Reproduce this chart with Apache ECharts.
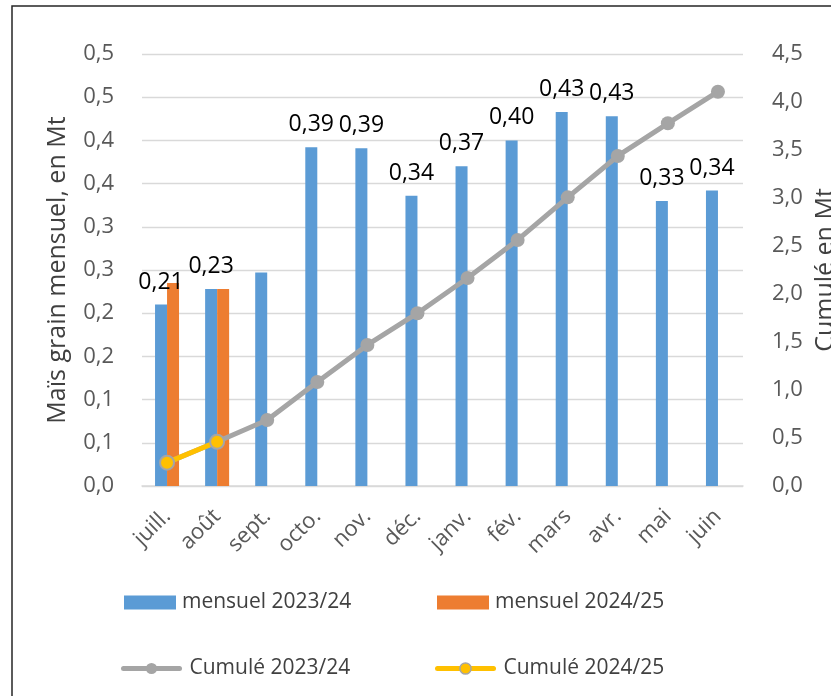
<!DOCTYPE html>
<html>
<head>
<meta charset="utf-8">
<script src="https://cdn.jsdelivr.net/npm/echarts@6/dist/echarts.min.js"></script>
<style>html,body{margin:0;padding:0;background:#fff;}#c{width:831px;height:696px;}</style>
</head>
<body>
<div id="c"></div>
<script>
var months = ['juill.','août','sept.','octo.','nov.','déc.','janv.','fév.','mars','avr.','mai','juin'];
var monthly2324 = [0.210, 0.228, 0.247, 0.392, 0.391, 0.336, 0.370, 0.400, 0.433, 0.428, 0.330, 0.342];
var monthly2425 = [0.235, 0.228, null, null, null, null, null, null, null, null, null, null];
var cumul2324 = [0.243, 0.461, 0.688, 1.083, 1.469, 1.800, 2.167, 2.563, 3.007, 3.438, 3.778, 4.107];
var cumul2425 = [0.243, 0.461, null, null, null, null, null, null, null, null, null, null];
var barLabels = ['0,21','0,23','','0,39','0,39','0,34','0,37','0,40','0,43','0,43','0,33','0,34'];
var leftTickLabels = ['0,0','0,1','0,1','0,2','0,2','0,3','0,3','0,4','0,4','0,5','0,5'];
var rightTickLabels = ['0,0','0,5','1,0','1,5','2,0','2,5','3,0','3,5','4,0','4,5'];

var FONT = '"Open Sans", "DejaVu Sans", sans-serif';
var chart = echarts.init(document.getElementById('c'), null, {renderer: 'canvas'});

function legendFor(name, left, top, isLine, color) {
  var lg = {
    show: true,
    data: [isLine ? {name: name} : {name: name, icon: 'rect'}],
    left: left,
    top: top,
    padding: 0,
    orient: 'horizontal',
    itemWidth: isLine ? 56 : 52,
    itemHeight: 14,
    selectedMode: false,
    textStyle: {fontFamily: FONT, fontSize: 21, color: '#404040', padding: isLine ? [0,0,0,5] : [0,0,0,1]}
  };
  if (isLine) {
    lg.lineStyle = {color: color, width: 5, cap: 'round'};
    lg.itemStyle = {color: color, borderColor: '#A5A5A5', borderWidth: color === '#A5A5A5' ? 0 : 1.5};
  }
  return lg;
}

var option = {
  animation: false,
  backgroundColor: '#fff',
  textStyle: {fontFamily: FONT},
  graphic: [{
    type: 'rect',
    shape: {x: 12, y: 6, width: 900, height: 800},
    style: {fill: 'none', stroke: '#262626', lineWidth: 1.5},
    silent: true, z: 100
  }],
  grid: {left: 142, right: 88, top: 54, bottom: 210, containLabel: false, outerBoundsMode: 'none'},
  legend: [
    legendFor('mensuel 2023/24', 124, 592, false),
    legendFor('mensuel 2024/25', 437, 592, false),
    legendFor('Cumulé 2023/24', 121, 658, true, '#A5A5A5'),
    legendFor('Cumulé 2024/25', 435, 658, true, '#FFC000')
  ],
  xAxis: {
    type: 'category',
    data: months,
    axisLine: {show: true, lineStyle: {color: '#D9D9D9', width: 1.5}},
    axisTick: {show: false},
    axisLabel: {rotate: 45, fontFamily: FONT, fontSize: 22, color: '#595959', margin: 27, interval: 0}
  },
  yAxis: [{
    type: 'value',
    position: 'left',
    min: 0, max: 0.5, interval: 0.05,
    axisLine: {show: false},
    axisTick: {show: false},
    splitLine: {show: true, lineStyle: {color: '#D9D9D9', width: 1.3}},
    axisLabel: {
      margin: 28, fontFamily: FONT, fontSize: 22, color: '#595959',
      formatter: function (v) { return leftTickLabels[Math.round(v / 0.05)]; }
    },
    name: 'Maïs grain mensuel, en Mt',
    nameLocation: 'middle',
    nameRotate: 90,
    nameGap: 72,
    nameTextStyle: {fontFamily: FONT, fontSize: 25, color: '#404040'}
  }, {
    type: 'value',
    position: 'right',
    min: 0, max: 4.5, interval: 0.5,
    axisLine: {show: false},
    axisTick: {show: false},
    splitLine: {show: false},
    axisLabel: {
      margin: 29, fontFamily: FONT, fontSize: 22, color: '#595959',
      formatter: function (v) { return rightTickLabels[Math.round(v / 0.5)]; }
    },
    name: 'Cumulé en Mt',
    nameLocation: 'middle',
    nameRotate: 90,
    nameGap: 64,
    nameTextStyle: {fontFamily: FONT, fontSize: 25, color: '#404040'}
  }],
  series: [{
    name: 'mensuel 2023/24',
    type: 'bar',
    yAxisIndex: 0,
    data: monthly2324,
    barWidth: 12,
    barGap: '0%',
    itemStyle: {color: '#5B9BD5'},
    label: {
      show: true, position: 'top', distance: 11,
      fontFamily: FONT, fontSize: 23, color: '#000',
      formatter: function (p) { return barLabels[p.dataIndex]; }
    }
  }, {
    name: 'mensuel 2024/25',
    type: 'bar',
    yAxisIndex: 0,
    data: monthly2425,
    barWidth: 12,
    barGap: '0%',
    itemStyle: {color: '#ED7D31'}
  }, {
    name: 'Cumulé 2023/24',
    type: 'line',
    yAxisIndex: 1,
    data: cumul2324,
    symbol: 'circle',
    symbolSize: 14,
    lineStyle: {color: '#A5A5A5', width: 5},
    itemStyle: {color: '#A5A5A5'},
    z: 3
  }, {
    name: 'Cumulé 2024/25',
    type: 'line',
    yAxisIndex: 1,
    data: cumul2425,
    symbol: 'circle',
    symbolSize: 14,
    lineStyle: {color: '#FFC000', width: 5},
    itemStyle: {color: '#FFC000', borderColor: '#A5A5A5', borderWidth: 2},
    z: 4
  }]
};
chart.setOption(option);
</script>
</body>
</html>
